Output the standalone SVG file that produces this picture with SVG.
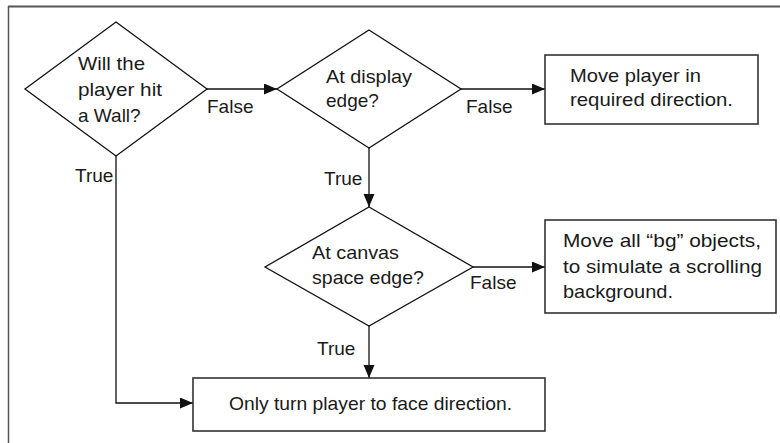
<svg xmlns="http://www.w3.org/2000/svg" width="780" height="443" viewBox="0 0 780 443">
<style>
text{font-family:"Liberation Sans",Arial,sans-serif;font-size:19px;fill:#1a1a1a}
.shape{fill:#fff;stroke:#111;stroke-width:1.3}
.box{fill:#fff;stroke:#333;stroke-width:1.6}
.conn{fill:none;stroke:#111;stroke-width:1.3}
.frame{fill:none;stroke:#555}
</style>
<defs>
<marker id="arr" markerUnits="userSpaceOnUse" markerWidth="14" markerHeight="12" refX="13" refY="5.5" orient="auto">
<path d="M0,0 L13,5.5 L0,11 z" fill="#111"/>
</marker>
</defs>
<rect width="780" height="443" fill="#fff"/>
<g id="frame">
<path class="frame" d="M8,6.5 H780" stroke-width="2"/>
<path class="frame" d="M8.5,6 V443" stroke="#333" stroke-width="1.5"/>
</g>
<g id="connectors">
<path class="conn" d="M207,89 H277" marker-end="url(#arr)"/>
<path class="conn" d="M461,89 H545" marker-end="url(#arr)"/>
<path class="conn" d="M369,148 V207" marker-end="url(#arr)"/>
<path class="conn" d="M473,267 H545" marker-end="url(#arr)"/>
<path class="conn" d="M369,326 V378" marker-end="url(#arr)"/>
<path class="conn" d="M116,156 V403 H193" marker-end="url(#arr)"/>
<text x="207" y="113">False</text>
<text x="466" y="113">False</text>
<text x="470" y="289">False</text>
<text x="75" y="182">True</text>
<text x="324" y="185">True</text>
<text x="317" y="355">True</text>
</g>
<g id="wall">
<polygon class="shape" points="116,22 207,89 116,156 25,89"/>
<text x="78" y="70" textLength="67" lengthAdjust="spacingAndGlyphs">Will the</text>
<text x="78" y="96" textLength="84" lengthAdjust="spacingAndGlyphs">player hit</text>
<text x="78" y="122">a Wall?</text>
</g>
<g id="display">
<polygon class="shape" points="369,30 461,89 369,148 277,89"/>
<text x="326" y="83" textLength="86" lengthAdjust="spacingAndGlyphs">At display</text>
<text x="326" y="107">edge?</text>
</g>
<g id="move">
<rect class="box" x="545" y="55" width="213" height="69"/>
<text x="570" y="82" textLength="131" lengthAdjust="spacingAndGlyphs">Move player in</text>
<text x="570" y="106" textLength="163" lengthAdjust="spacingAndGlyphs">required direction.</text>
</g>
<g id="canvas">
<polygon class="shape" points="369,207 473,267 369,326 265,267"/>
<text x="312" y="259" textLength="87" lengthAdjust="spacingAndGlyphs">At canvas</text>
<text x="312" y="284" textLength="112" lengthAdjust="spacingAndGlyphs">space edge?</text>
</g>
<g id="bg">
<rect class="box" x="545" y="220" width="231" height="93"/>
<text x="563" y="247" textLength="198" lengthAdjust="spacingAndGlyphs">Move all “bg” objects,</text>
<text x="563" y="273" textLength="199" lengthAdjust="spacingAndGlyphs">to simulate a scrolling</text>
<text x="563" y="298" textLength="110" lengthAdjust="spacingAndGlyphs">background.</text>
</g>
<g id="turn">
<rect class="box" x="193" y="378" width="352" height="53"/>
<text x="229" y="410" textLength="283" lengthAdjust="spacingAndGlyphs">Only turn player to face direction.</text>
</g>
</svg>
